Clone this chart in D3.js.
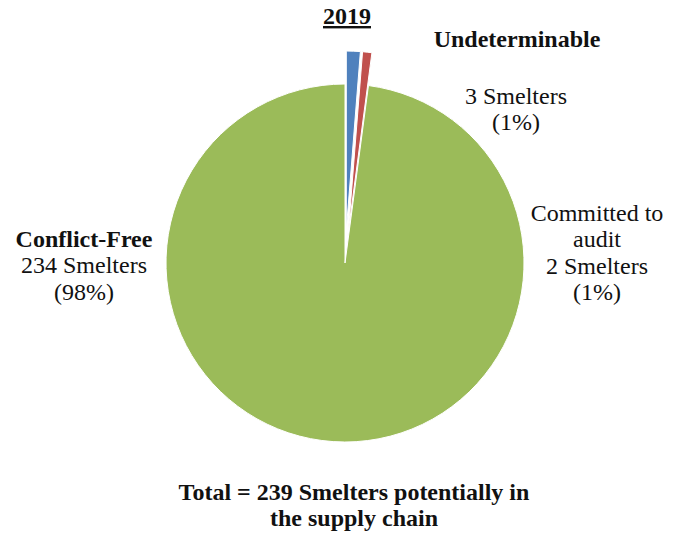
<!DOCTYPE html>
<html>
<head>
<meta charset="utf-8">
<script src="https://cdn.jsdelivr.net/npm/d3@7"></script>
<style>
  html, body { margin: 0; padding: 0; background: #fff; }
  svg { display: block; }
</style>
</head>
<body>
<svg id="chart" width="686" height="537"></svg>
<script>
// Smelter status counts, 2019
const categories = ["Undeterminable", "Committed to audit", "Conflict-Free"];
const values = [3, 2, 234];
const percents = ["1%", "1%", "98%"];
const colors = ["#4F81BD", "#C0504D", "#9BBB59"];
const exploded = [true, true, false];
const title = "2019";
const footer = ["Total = 239 Smelters potentially in", "the supply chain"];

const FONT = "'Liberation Serif', 'Times New Roman', Tinos, 'DejaVu Serif', serif";
const FS = 24, LH = 26.3;

const svg = d3.select("#chart")
  .attr("font-family", FONT)
  .style("font-family", FONT);
const cx = 345, cy = 263, radius = 179, explodeBy = 33;

const pie = d3.pie().sort(null).value(d => d)
  .startAngle(0).endAngle(2 * Math.PI);
const arcs = pie(values);
const arc = d3.arc().innerRadius(0).outerRadius(radius);

const g = svg.append("g").attr("transform", `translate(${cx},${cy})`);

// draw the big slice first so the pulled-out slices sit on top
const order = [2, 0, 1];
order.forEach(i => {
  const a = arcs[i];
  const mid = (a.startAngle + a.endAngle) / 2;
  const off = exploded[i] ? explodeBy : 0;
  g.append("path")
    .attr("d", arc(a))
    .attr("transform", `translate(${off * Math.sin(mid)},${-off * Math.cos(mid)})`)
    .attr("fill", colors[i])
    .attr("stroke", "#fff")
    .attr("stroke-width", 1);
});

// title
svg.append("text")
  .attr("x", 347).attr("y", 24)
  .attr("text-anchor", "middle")
  .attr("fill", "#111")
  .attr("font-size", FS).attr("font-weight", "bold")
  .attr("text-decoration", "underline")
  .text(title);

// category labels
function label(x, y0, lines) {
  const txt = svg.append("text").attr("text-anchor", "middle")
    .attr("fill", "#111").attr("font-size", FS);
  lines.forEach((l, k) => {
    txt.append("tspan")
      .attr("x", x).attr("y", y0 + k * LH)
      .attr("font-weight", l.bold ? "bold" : "normal")
      .text(l.t);
  });
}

label(517, 47, [{ t: categories[0], bold: true }]);
label(516, 104, [{ t: `${values[0]} Smelters` }, { t: `(${percents[0]})` }]);
label(597, 221, [{ t: "Committed to" }, { t: "audit" },
                 { t: `${values[1]} Smelters` }, { t: `(${percents[1]})` }]);
label(84, 247, [{ t: categories[2], bold: true }, { t: `${values[2]} Smelters` },
                { t: `(${percents[2]})` }]);

// footer
const f = svg.append("text").attr("text-anchor", "middle")
  .attr("fill", "#111").attr("font-size", FS).attr("font-weight", "bold");
footer.forEach((l, k) => {
  f.append("tspan").attr("x", 354).attr("y", 500 + k * LH).text(l);
});
</script>
</body>
</html>
